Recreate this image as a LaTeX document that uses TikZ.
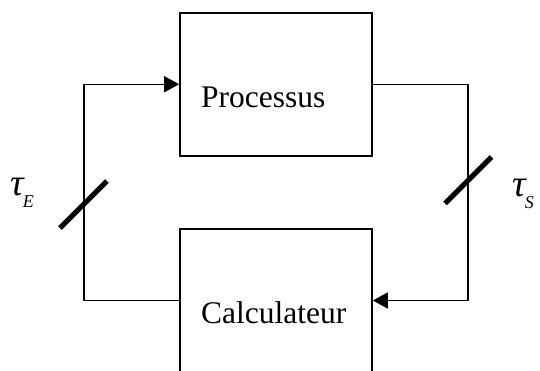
\documentclass[tikz,border=0pt]{standalone}
\usepackage{fontspec}
\setmainfont{Liberation Serif}
\usetikzlibrary{arrows.meta}
\tikzset{
  blockbox/.style={draw, line width=1.6pt, minimum width=192pt, minimum height=143pt, inner sep=0pt},
  blocktext/.style={anchor=base west, inner sep=0pt, font=\fontsize{31.5}{36}\selectfont},
  arrowline/.style={line width=1.4pt, -{Triangle[length=15pt,width=16pt]}},
  slashline/.style={line width=5pt},
  taulabel/.style={anchor=base west, inner sep=0pt, font=\fontsize{38}{40}\selectfont\itshape}
}
\newcommand{\subtxt}[1]{\hspace{-1pt}\raisebox{-12pt}{\fontsize{18}{18}\selectfont #1}}
\begin{document}
\begin{tikzpicture}[x=1pt,y=-1pt]
\useasboundingbox (0,0) rectangle (540,370);
\clip (0,0) rectangle (540,370);
\node[blockbox] (proc) at (276,84.25) {};
\node[blockbox] (calc) at (276,300.5) {};
\node[blocktext] (proct) at (201,107) {Processus};
\node[blocktext] (calct) at (201,323) {Calculateur};
\coordinate (lb) at (84,300.5);
\coordinate (lt) at (84,84.25);
\coordinate (rt) at (468,84.25);
\coordinate (rb) at (468,300.5);
\draw[arrowline] (calc.west) -- (lb) -- (lt) -- (proc.west);
\draw[arrowline] (proc.east) -- (rt) -- (rb) -- (calc.east);
\coordinate (s1a) at (60,228);
\coordinate (s1b) at (107,181);
\coordinate (s2a) at (445,203.5);
\coordinate (s2b) at (491.5,157);
\draw[slashline] (s1a) -- (s1b);
\draw[slashline] (s2a) -- (s2b);
\node[taulabel] (tauE) at (10,195) {τ\subtxt{E}};
\node[taulabel] (tauS) at (512,196) {τ\subtxt{S}};
\end{tikzpicture}
\end{document}
